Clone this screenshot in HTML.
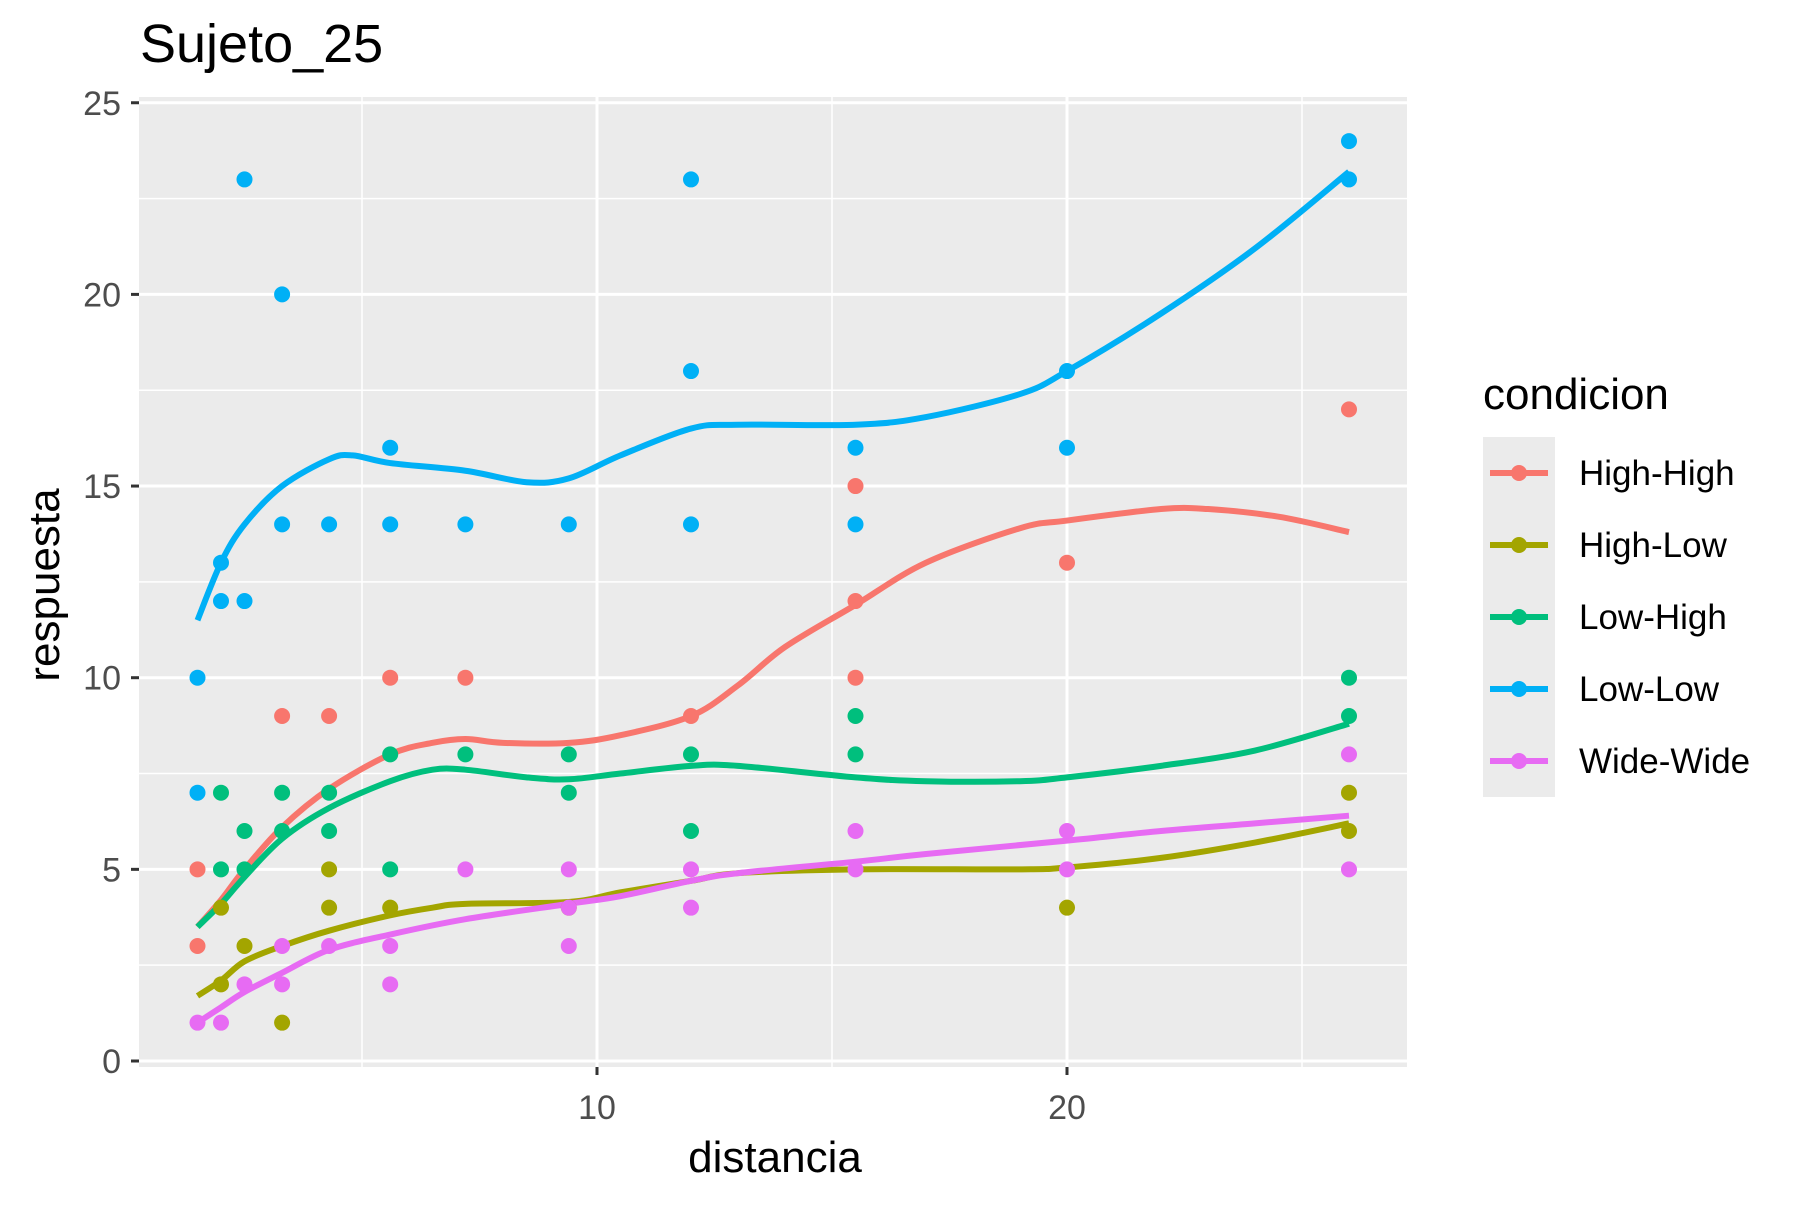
<!DOCTYPE html>
<html><head><meta charset="utf-8"><style>
body{margin:0;background:#fff;}
svg text{font-family:"Liberation Sans",Arial,sans-serif;}
</style></head><body>
<svg id="chart" width="1800" height="1200" xmlns="http://www.w3.org/2000/svg">
<rect x="0" y="0" width="1800" height="1200" fill="#fff"/>
<text x="140" y="62" font-size="54" fill="#000">Sujeto_25</text>
<rect x="139" y="97" width="1268" height="970" fill="#EBEBEB"/>
<g id="grid"></g><g id="axes"></g><g id="lines"></g><g id="points"></g>
<text x="775" y="1172" font-size="44" text-anchor="middle" fill="#000">distancia</text>
<text transform="translate(59,585) rotate(-90)" font-size="44" text-anchor="middle" fill="#000">respuesta</text>
<text x="1483" y="409" font-size="44" fill="#000">condicion</text>
<rect x="1483" y="437" width="72" height="360" fill="#EBEBEB"/>
<g id="legend"></g>
</svg>
<script>
const categories=["High-High","High-Low","Low-High","Low-Low","Wide-Wide"];
const colors=["#F8766D","#A3A500","#00BF7D","#00B0F6","#E76BF3"];
const xTicks=[10,20];
const yTicks=[0,5,10,15,20,25];
// points [x, y]
const ptsHighHigh=[[1.5,5],[1.5,3],[3.3,9],[4.3,9],[5.6,10],[7.2,10],[12,9],[15.5,15],[15.5,12],[15.5,10],[20,13],[26,17]];
const ptsHighLow=[[2,4],[2,2],[2.5,3],[3.3,1],[4.3,5],[4.3,4],[5.6,4],[9.4,4],[20,4],[26,7],[26,6]];
const ptsLowHigh=[[2,7],[2,5],[2.5,6],[2.5,5],[3.3,7],[3.3,6],[4.3,7],[4.3,6],[5.6,8],[5.6,5],[7.2,8],[9.4,8],[9.4,7],[12,8],[12,6],[15.5,9],[15.5,8],[26,10],[26,9]];
const ptsLowLow=[[1.5,10],[1.5,7],[2,13],[2,12],[2.5,23],[2.5,12],[3.3,20],[3.3,14],[4.3,14],[5.6,16],[5.6,14],[7.2,14],[9.4,14],[12,23],[12,18],[12,14],[15.5,16],[15.5,14],[20,18],[20,16],[26,24],[26,23]];
const ptsWideWide=[[1.5,1],[2,1],[2.5,2],[3.3,3],[3.3,2],[4.3,3],[5.6,3],[5.6,2],[7.2,5],[9.4,5],[9.4,4],[9.4,3],[12,5],[12,4],[15.5,6],[15.5,5],[20,6],[20,5],[26,8],[26,5]];
// smooth curves [x, y]
const smHighHigh=[[1.5,3.5],[2,4.2],[2.5,5],[3.3,6.1],[4.3,7.1],[5.6,8],[6.5,8.3],[7.2,8.4],[8,8.3],[9.4,8.3],[10.5,8.5],[12,9],[13,9.8],[14,10.8],[15.5,11.9],[17,13],[19,13.9],[20,14.1],[22,14.4],[23,14.4],[24.5,14.2],[26,13.8]];
const smHighLow=[[1.5,1.7],[2,2.1],[2.5,2.6],[3.3,3],[4.3,3.4],[5.6,3.8],[6.5,4],[7.2,4.1],[9.4,4.15],[10.5,4.4],[12,4.7],[13,4.9],[15.5,5],[19,5],[20,5.05],[22,5.3],[24,5.7],[26,6.2]];
const smLowHigh=[[1.5,3.5],[2,4.1],[2.5,4.8],[3.3,5.8],[4.3,6.6],[5.6,7.3],[6.5,7.6],[7.2,7.6],[8.5,7.4],[9.4,7.35],[10.5,7.5],[12,7.7],[13,7.7],[15.5,7.4],[17,7.3],[19,7.3],[20,7.4],[22,7.7],[24,8.1],[26,8.8]];
const smLowLow=[[1.5,11.5],[2,13],[2.5,14],[3.3,15],[4.3,15.7],[4.8,15.8],[5.6,15.6],[7.2,15.4],[8.5,15.1],[9.4,15.2],[10.5,15.8],[12,16.5],[13,16.6],[15.5,16.6],[17,16.8],[19,17.4],[20,18],[22,19.5],[24,21.2],[26,23.2]];
const smWideWide=[[1.5,1],[2,1.4],[2.5,1.8],[3.3,2.3],[4.3,2.9],[5.6,3.3],[7.2,3.7],[9.4,4.1],[10.5,4.3],[12,4.7],[13,4.9],[15.5,5.2],[17,5.4],[20,5.75],[22,6],[24,6.2],[26,6.4]];

const NS="http://www.w3.org/2000/svg";
const X=v=>127+47*v;
const Y=v=>1061-38.33*v;
function mk(tag,attrs,parent){const e=document.createElementNS(NS,tag);for(const k in attrs)e.setAttribute(k,attrs[k]);document.getElementById(parent).appendChild(e);return e;}
const grid="grid";
[2.5,7.5,12.5,17.5,22.5].forEach(v=>{const l=mk("line",{x1:139,x2:1407,y1:Y(v),y2:Y(v),stroke:"#fff","stroke-width":1.5},grid);

});
[5,15,25].forEach(v=>{const l=mk("line",{x1:X(v),x2:X(v),y1:97,y2:1067,stroke:"#fff","stroke-width":1.5},grid);

});
yTicks.forEach(v=>{const l=mk("line",{x1:139,x2:1407,y1:Y(v),y2:Y(v),stroke:"#fff","stroke-width":3},grid);


const t=mk("line",{x1:131,x2:139,y1:Y(v),y2:Y(v),stroke:"#333","stroke-width":3},"axes");


const tx=mk("text",{x:121,y:Y(v)+12,"font-size":34,"text-anchor":"end",fill:"#4D4D4D"},"axes");tx.textContent=v;

});
xTicks.forEach(v=>{const l=mk("line",{x1:X(v),x2:X(v),y1:97,y2:1067,stroke:"#fff","stroke-width":3},grid);


const t=mk("line",{x1:X(v),x2:X(v),y1:1067,y2:1075,stroke:"#333","stroke-width":3},"axes");


const tx=mk("text",{x:X(v),y:1119,"font-size":34,"text-anchor":"middle",fill:"#4D4D4D"},"axes");tx.textContent=v;

});
function smoothPath(pts){const p=pts.map(d=>[X(d[0]),Y(d[1])]);let s="M"+p[0][0]+","+p[0][1];
for(let i=0;i<p.length-1;i++){const p0=p[i-1]||p[i],p1=p[i],p2=p[i+1],p3=p[i+2]||p2;
const c1=[p1[0]+(p2[0]-p0[0])/6,p1[1]+(p2[1]-p0[1])/6],c2=[p2[0]-(p3[0]-p1[0])/6,p2[1]-(p3[1]-p1[1])/6];
s+=` C${c1[0]},${c1[1]} ${c2[0]},${c2[1]} ${p2[0]},${p2[1]}`;}return s;}
const allPts=[ptsHighHigh,ptsHighLow,ptsLowHigh,ptsLowLow,ptsWideWide];
const allSm=[smHighHigh,smHighLow,smLowHigh,smLowLow,smWideWide];
allPts.forEach((arr,i)=>arr.forEach(d=>{const c=mk("circle",{cx:X(d[0]),cy:Y(d[1]),r:8,fill:colors[i]},"points");

}));
allSm.forEach((arr,i)=>{const p=mk("path",{d:smoothPath(arr),fill:"none",stroke:colors[i],"stroke-width":6,"stroke-linecap":"butt"},"lines");

});
categories.forEach((c,i)=>{const cy=473+i*72;
const l=mk("line",{x1:1490,x2:1548,y1:cy,y2:cy,stroke:colors[i],"stroke-width":6},"legend");


const d=mk("circle",{cx:1519,cy:cy,r:8,fill:colors[i]},"legend");


const t=mk("text",{x:1579,y:cy+12,"font-size":35,fill:"#000"},"legend");t.textContent=c;

});
</script>
</body></html>
